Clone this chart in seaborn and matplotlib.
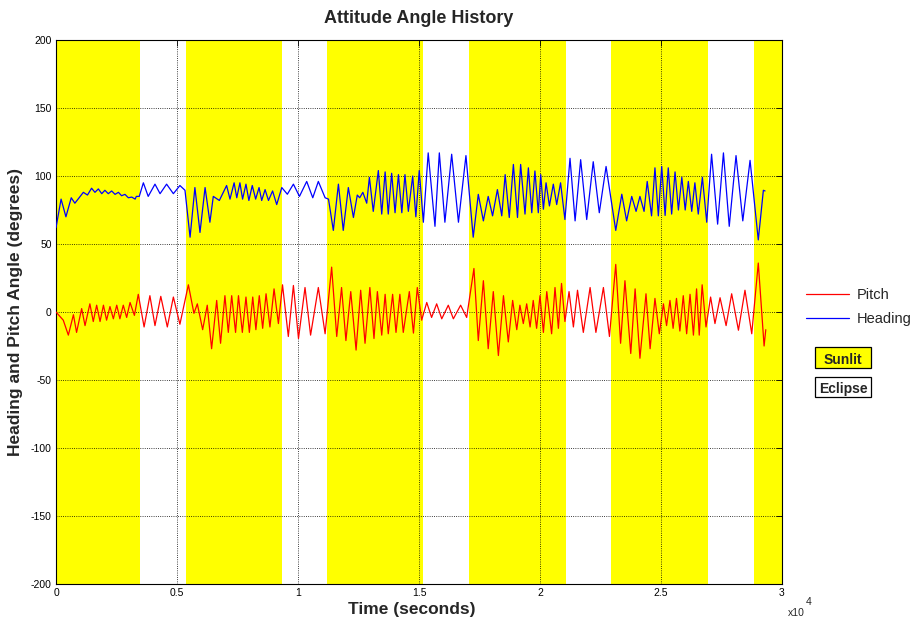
import numpy as np
import pandas as pd
import matplotlib
matplotlib.use("Agg")
import matplotlib.pyplot as plt
from matplotlib.lines import Line2D
from matplotlib.patches import Rectangle
import seaborn as sns

# Turning points of the attitude history (time in 1e3 s, angle in degrees)
heading_t = [
    0.00, 0.21, 0.41, 0.63, 0.78, 1.13, 1.30, 1.47, 1.61, 1.75, 1.89, 2.02, 2.16, 2.30,
    2.44, 2.58, 2.71, 2.85, 2.99, 3.13, 3.27, 3.32, 3.44,
    3.61, 3.81, 4.09, 4.30, 4.57, 4.85, 5.12, 5.33,
    5.54, 5.74, 5.95, 6.16, 6.36, 6.50, 6.75, 7.05, 7.19, 7.36, 7.47, 7.60, 7.71, 7.85,
    7.97, 8.11, 8.25, 8.39, 8.50, 8.64, 8.78, 8.95, 9.12,
    9.33, 9.56, 9.81, 10.06, 10.36, 10.61, 10.84, 11.12, 11.26,
    11.46, 11.67, 11.87, 12.08, 12.29, 12.45, 12.55, 12.68, 12.84, 12.95, 13.11, 13.32,
    13.46, 13.60, 13.73, 13.87, 14.01, 14.15, 14.29, 14.42, 14.56, 14.74, 14.87, 15.01,
    15.18, 15.38, 15.66, 15.84, 16.07, 16.35, 16.63, 16.94,
    17.24, 17.45, 17.66, 17.86, 18.04, 18.24, 18.42, 18.56, 18.73, 18.90, 19.07, 19.20,
    19.38, 19.52, 19.66, 19.79, 19.93, 20.03, 20.14, 20.25, 20.39, 20.55, 20.69, 20.85, 21.03,
    21.24, 21.45, 21.68, 21.93, 22.20, 22.45, 22.73,
    23.13, 23.38, 23.58, 23.79, 23.97, 24.13, 24.30, 24.43, 24.61, 24.75, 24.89, 25.03,
    25.17, 25.30, 25.44, 25.58, 25.72, 25.86, 26.00, 26.13, 26.27, 26.40, 26.54, 26.71, 26.89,
    27.09, 27.34, 27.58, 27.82, 28.10, 28.38, 28.68,
    29.02, 29.23, 29.30,
]
heading_deg = [
    62, 83, 70, 84, 80, 88, 86, 91, 88, 90.5, 87, 89.5, 87, 89,
    86.5, 88, 85.5, 86.5, 84, 84.5, 83, 85, 85,
    95, 85, 94, 87, 94, 87, 93, 89.5,
    55, 91.5, 58.5, 91.5, 66, 85, 82, 93, 83, 95, 84, 95, 83, 94,
    82, 93, 83, 91.5, 82, 90, 82, 89, 79,
    91.5, 86.6, 94, 85, 96, 84, 96, 84, 83,
    60, 94, 60, 91.5, 69.5, 86, 84, 88, 80, 99, 74, 104,
    72, 103, 72, 102, 73, 101, 73, 101, 74, 100, 70, 104,
    66, 117, 63, 117, 66, 116, 66, 115,
    55, 86.5, 67, 85, 70.7, 90, 70.7, 101, 69.5, 108.5, 69.5, 108.5,
    72, 106, 73, 103.7, 73, 101, 75.6, 95, 78, 94, 79, 95, 68,
    113, 67, 112, 68, 110.5, 73, 107,
    60, 86.6, 67, 85, 74, 85, 74, 96, 70.7, 106, 70.7, 107,
    71, 106, 72, 103, 75, 99, 75, 96, 74, 95, 72, 99, 66,
    116, 64.6, 117, 63, 115, 67, 111.5,
    53, 89.5, 89,
]

pitch_t = [
    0.00, 0.15, 0.30, 0.51, 0.72, 0.85, 1.06, 1.20, 1.40, 1.54, 1.68, 1.82, 1.96, 2.09,
    2.23, 2.37, 2.51, 2.64, 2.78, 2.92, 3.06, 3.24, 3.40,
    3.64, 3.88, 4.09, 4.33, 4.60, 4.85, 5.12,
    5.47, 5.70, 5.84, 6.06, 6.25, 6.43, 6.64, 6.80, 6.98, 7.12, 7.26, 7.42, 7.54, 7.70,
    7.85, 7.99, 8.13, 8.26, 8.40, 8.54, 8.68, 8.84, 9.01, 9.19,
    9.36, 9.60, 9.81, 10.02, 10.29, 10.52, 10.84, 11.12,
    11.39, 11.60, 11.80, 11.98, 12.18, 12.40, 12.59, 12.77, 12.97, 13.14, 13.28, 13.46,
    13.60, 13.73, 13.91, 14.05, 14.21, 14.35, 14.60, 14.77, 14.93,
    15.11, 15.32, 15.52, 15.73, 15.94, 16.21, 16.42, 16.72, 16.97,
    17.27, 17.45, 17.66, 17.86, 18.07, 18.28, 18.49, 18.69, 18.87, 19.04, 19.17, 19.31,
    19.45, 19.59, 19.72, 19.86, 20.00, 20.14, 20.28, 20.48, 20.62, 20.76, 20.89, 21.03,
    21.20, 21.38, 21.55, 21.79, 22.07, 22.31, 22.62, 22.87,
    23.13, 23.33, 23.51, 23.75, 23.93, 24.13, 24.38, 24.55, 24.75, 24.93, 25.10, 25.23,
    25.37, 25.50, 25.64, 25.78, 25.92, 26.06, 26.20, 26.34, 26.47, 26.58, 26.70, 26.86,
    27.05, 27.23, 27.44, 27.69, 27.92, 28.20, 28.47, 28.75,
    29.02, 29.26, 29.33,
]
pitch_deg = [
    0, -3, -6, -17, -2, -15, 2.5, -10, 6, -7, 5, -7, 5, -6,
    4, -5, 5, -5, 5, -4, 7, -2.5, 13,
    -11, 12, -10, 11.5, -11, 11, -9,
    20, -1, 6, -13, 5, -27, 8.5, -23, 12, -15, 12, -15, 12, -15,
    11, -15, 11, -13, 12, -12, 13.4, -11, 17, -8.5,
    20, -18, 19.5, -19.5, 18, -17, 18, -16,
    33, -18, 18, -21, 15, -28, 16, -23, 18, -19.5, 15, -17,
    13, -16, 13, -15, 13, -15, 15, -15.5, 18,
    -6, 7, -4, 6, -5, 5, -5, 5, -4,
    32, -21, 23, -27, 15, -32, 12, -22, 8.5, -13, 5, -8.5,
    6, -11, 8.5, -12, 12, -15, 15, -16, 18, -12, 21, -7,
    15, -11, 16, -15, 18, -15, 18, -18,
    35, -23, 23, -30.5, 17, -34, 13.4, -27, 10, -16, 6, -10,
    8.5, -12, 10, -14, 12, -16, 13, -17, 17, -17, 20, -11,
    11, -8.5, 10.5, -10, 13.4, -13.4, 16, -16,
    36, -25, -13,
]

# Sunlit intervals of the orbit (time in 1e3 s); the gaps are eclipse
sunlit_start = [0.0, 5.37, 11.21, 17.08, 22.93, 28.84]
sunlit_end = [3.47, 9.33, 15.15, 21.06, 26.93, 30.0]

x_ticks = [0, 5000, 10000, 15000, 20000, 25000, 30000]
x_tick_labels = ["0", "0.5", "1", "1.5", "2", "2.5", "3"]
y_ticks = [-200, -150, -100, -50, 0, 50, 100, 150, 200]

series_names = ["Pitch", "Heading"]
series_colors = {"Pitch": "#ff0000", "Heading": "#0000ff"}

df = pd.concat([
    pd.DataFrame({"time": 1000 * np.array(pitch_t), "angle": pitch_deg, "series": "Pitch"}),
    pd.DataFrame({"time": 1000 * np.array(heading_t), "angle": heading_deg, "series": "Heading"}),
], ignore_index=True)

sns.set_style("white")
plt.rcParams["font.family"] = ["Liberation Sans", "DejaVu Sans"]
plt.rcParams["axes.unicode_minus"] = False

fig = plt.figure(figsize=(9.13, 6.28), dpi=100)
ax = fig.add_axes([56 / 913, 1 - 584 / 628, 726 / 913, 544 / 628])

for s, e in zip(sunlit_start, sunlit_end):
    ax.axvspan(1000 * s, 1000 * e, color="#ffff00", lw=0, zorder=0)

sns.lineplot(data=df, x="time", y="angle", hue="series", hue_order=series_names,
             palette=series_colors, estimator=None, sort=False, linewidth=0.9,
             legend=False, ax=ax, zorder=3)

ax.set_xlim(0, 30000)
ax.set_ylim(-200, 200)
ax.set_xticks(x_ticks)
ax.set_xticklabels(x_tick_labels)
ax.set_yticks(y_ticks)
ax.tick_params(direction="in", top=True, right=True, length=4, width=0.6,
               labelsize=7.5, pad=3, colors="black")
ax.grid(True, linestyle=":", color="black", linewidth=0.6, zorder=1)
ax.set_axisbelow(False)
for sp in ax.spines.values():
    sp.set_color("black")
    sp.set_linewidth(0.8)

ax.set_title("Attitude Angle History", fontsize=13, fontweight="bold", pad=12)
ax.set_xlabel("Time (seconds)", fontsize=12.5, fontweight="bold")
ax.set_ylabel("Heading and Pitch Angle (degrees)", fontsize=12.5, fontweight="bold")
ax.xaxis.set_label_coords(0.49, -0.033)
ax.yaxis.set_label_coords(-0.045, 0.5)

# Exponent of the time axis
fig.text(788 / 913, 1 - 616 / 628, "x10", fontsize=7.5)
fig.text(806 / 913, 1 - 605 / 628, "4", fontsize=7.5)

handles = [Line2D([0], [0], color=series_colors[n], lw=0.9) for n in series_names]
fig.legend(handles, series_names, loc="upper left", bbox_to_anchor=(0.868, 0.562),
           bbox_transform=fig.transFigure, frameon=False, fontsize=10.5,
           handlelength=3.0, handletextpad=0.5, labelspacing=0.65)

for label, face, y0, y1 in [("Sunlit", "#ffff00", 347, 368), ("Eclipse", "white", 377, 397)]:
    fig.patches.append(Rectangle((815 / 913, 1 - y1 / 628), 56 / 913, (y1 - y0) / 628,
                                 transform=fig.transFigure, facecolor=face,
                                 edgecolor="black", linewidth=0.9))
    fig.text(843 / 913, 1 - ((y0 + y1) / 2 + 0.5) / 628, label, ha="center",
             va="center_baseline", fontsize=10, fontweight="bold")

fig.savefig("out.png", dpi=100)
